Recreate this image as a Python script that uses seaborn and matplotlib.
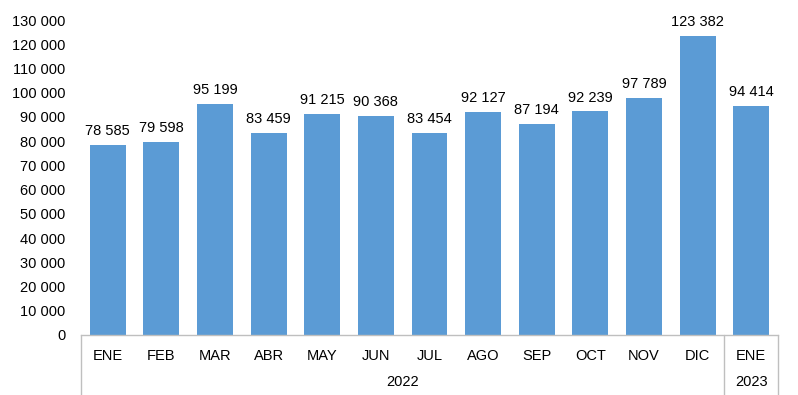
import matplotlib
matplotlib.use("Agg")
import matplotlib.pyplot as plt
import matplotlib.transforms as mtransforms
import seaborn as sns
import pandas as pd

months = ["ENE", "FEB", "MAR", "ABR", "MAY", "JUN", "JUL", "AGO", "SEP", "OCT", "NOV", "DIC", "ENE"]
years = ["2022"] * 12 + ["2023"]
values = [78585, 79598, 95199, 83459, 91215, 90368, 83454, 92127, 87194, 92239, 97789, 123382, 94414]

sns.set_theme(style="white")
plt.rcParams["font.family"] = ["Liberation Sans", "DejaVu Sans"]

df = pd.DataFrame({"key": [f"{m}-{y}" for m, y in zip(months, years)], "value": values})

def fmt(v):
    return f"{int(v):,}".replace(",", " ")

FS = 10.5
fig = plt.figure(figsize=(7.98, 3.95), dpi=100)
ax = fig.add_axes([81 / 798, 60 / 395, 697 / 798, 315 / 395])
sns.barplot(data=df, x="key", y="value", color="#5B9BD5", saturation=1, width=0.67,
            linewidth=0, ax=ax)

ax.set_ylim(0, 130000)
ax.set_xlim(-0.5, len(values) - 0.5)
ax.set_yticks(range(0, 130001, 10000))
ax.set_yticklabels([fmt(v) for v in range(0, 130001, 10000)], fontsize=FS, color="#000000")
ax.set_xticks(range(len(values)))
ax.set_xticklabels(months, fontsize=FS, color="#000000")
ax.tick_params(axis="x", length=0, pad=10)
ax.tick_params(axis="y", length=0, pad=11)
ax.set_xlabel("")
ax.set_ylabel("")
for s in ["top", "right", "left"]:
    ax.spines[s].set_visible(False)
ax.spines["bottom"].set_color("#BFBFBF")
ax.spines["bottom"].set_linewidth(1)

for i, v in enumerate(values):
    ax.annotate(fmt(v), (i, v), xytext=(0, 5), textcoords="offset points",
                ha="center", va="bottom", fontsize=FS, color="#000000")

trans = mtransforms.blended_transform_factory(ax.transData, ax.transAxes)
bottom = -60 / 315
for xpos in [-0.5, 11.5, 12.5]:
    ax.plot([xpos, xpos], [0, bottom], transform=trans, color="#BFBFBF", lw=1, clip_on=False)

ax.text(5.5, -47 / 315, "2022", transform=trans, ha="center", va="center", fontsize=FS, color="#000000")
ax.text(12, -47 / 315, "2023", transform=trans, ha="center", va="center", fontsize=FS, color="#000000")

fig.savefig("out.png", dpi=100)
